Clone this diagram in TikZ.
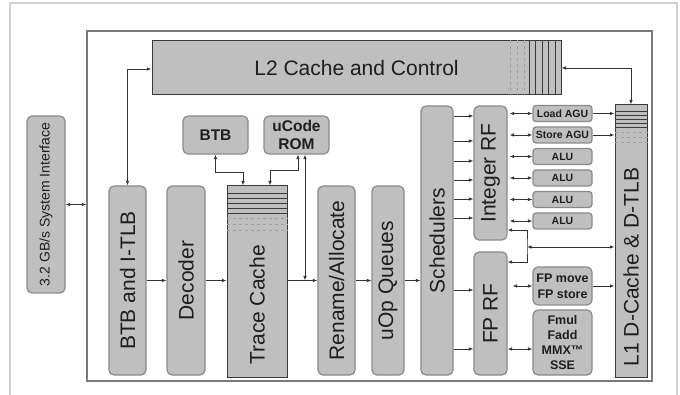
\documentclass[tikz,border=0pt]{standalone}
\usepackage{fontspec}
\setmainfont{Liberation Sans}
\usetikzlibrary{arrows.meta}

\definecolor{blkfill}{HTML}{BFBFBF}
\definecolor{blkline}{HTML}{8A8A8A}
\definecolor{cacheline}{HTML}{3A3A3A}
\definecolor{blktext}{HTML}{1E1E1E}
\definecolor{wirecol}{HTML}{333333}
\definecolor{framecol}{HTML}{7A7A7A}
\definecolor{outercol}{HTML}{D2D2D2}

\begin{document}
\begin{tikzpicture}[
  x=1pt, y=-1pt,
  >={Latex[length=4.5pt,width=3.5pt]},
  blk/.style={rectangle, rounded corners=5pt, draw=blkline, fill=blkfill, line width=1.2pt, inner sep=0pt, text=blktext, font=\fontsize{21}{24}\selectfont},
  cachebox/.style={blk, sharp corners, draw=cacheline, line width=1pt},
  exunit/.style={blk, rounded corners=3pt, minimum width=59pt, minimum height=16pt, font=\bfseries\fontsize{10.5}{12}\selectfont},
  rombox/.style={blk, minimum width=65pt, minimum height=38pt, align=center, font=\bfseries\fontsize{15.5}{18.5}\selectfont},
  wire/.style={draw=wirecol, line width=0.8pt},
  stripe/.style={draw=cacheline, line width=0.6pt},
  faintstripe/.style={draw=gray!75, line width=0.5pt, dashed},
]
  \useasboundingbox (0,0) rectangle (680,395);
  \draw[outercol, line width=1.5pt] (10,395) -- (10,3) -- (677,3) -- (677,395);

  % core frame and the blocks
  \node[draw=framecol, line width=1.2pt, minimum width=565pt, minimum height=350pt, inner sep=0pt] (core) at (369.5,206) {};

  \node[blk, minimum width=38pt, minimum height=177pt, font=\fontsize{14}{16}\selectfont] (sysif) at (46,204.5) {\rotatebox{90}{3.2 GB/s System Interface}};

  \node[cachebox, minimum width=409pt, minimum height=54pt] (l2) at (356.5,68) {L2 Cache and Control};

  \node[blk, minimum width=37pt, minimum height=189pt] (btbitlb) at (127.5,280.5) {\rotatebox{90}{BTB and I-TLB}};
  \node[blk, minimum width=38pt, minimum height=189pt] (decoder) at (186,280.5) {\rotatebox{90}{Decoder}};
  \node[cachebox, minimum width=60pt, minimum height=191pt] (trace) at (257,281.5) {\rotatebox{90}{Trace Cache\hspace*{47pt}}};
  \node[blk, minimum width=37pt, minimum height=189pt] (rename) at (336.5,280.5) {\rotatebox{90}{Rename/Allocate}};
  \node[blk, minimum width=32pt, minimum height=189pt] (uop) at (388,280.5) {\rotatebox{90}{uOp Queues}};
  \node[blk, minimum width=32pt, minimum height=269pt] (sched) at (437,240.5) {\rotatebox{90}{Schedulers}};
  \node[blk, minimum width=33pt, minimum height=134pt] (intrf) at (490.5,173) {\rotatebox{90}{Integer RF}};
  \node[blk, minimum width=33pt, minimum height=123pt] (fprf) at (490.5,313.5) {\rotatebox{90}{FP RF}};
  \node[cachebox, minimum width=32pt, minimum height=272pt] (l1) at (631,241) {\rotatebox{90}{L1 D-Cache \& D-TLB\hspace*{52pt}}};

  \node[rombox] (btb) at (215.5,135) {BTB};
  \node[rombox] (ucode) at (296.5,135) {uCode\\ROM};

  \foreach \nm/\txt/\y in {lagu/Load AGU/113.5, sagu/Store AGU/135, alua/ALU/156.5, alub/ALU/178, aluc/ALU/199.5, alud/ALU/221}
    \node[exunit] (\nm) at (562.5,\y) {\txt};

  \node[exunit, rounded corners=5pt, minimum height=38pt, align=center, font=\bfseries\fontsize{12.5}{16}\selectfont] (fpmove) at (562.5,286) {FP move\\FP store};
  \node[exunit, rounded corners=5pt, minimum height=65pt, align=center, font=\bfseries\fontsize{12.5}{15}\selectfont] (fmul) at (562.5,342.5) {Fmul\\Fadd\\MMX™\\SSE};

  % stripes in the caches
  \foreach \x in {510,517,524}
    \draw[faintstripe] (\x,0 |- l2.north) -- (\x,0 |- l2.south);
  \foreach \x in {529,535,542,548,555}
    \draw[stripe] (\x,0 |- l2.north) -- (\x,0 |- l2.south);
  \foreach \y in {193,198,203,208,213}
    \draw[stripe] (trace.west |- 0,\y) -- (trace.east |- 0,\y);
  \foreach \y in {218,224,230}
    \draw[faintstripe] (trace.west |- 0,\y) -- (trace.east |- 0,\y);
  \foreach \y in {111,115,119,123,127}
    \draw[stripe] (l1.west |- 0,\y) -- (l1.east |- 0,\y);
  \foreach \y in {132,137,142}
    \draw[faintstripe] (l1.west |- 0,\y) -- (l1.east |- 0,\y);

  % connectors
  \draw[wire, <->] (sysif.east) -- (core.west |- sysif.east);
  \draw[wire, <->] (l2.west |- 0,69) -| (btbitlb.north);
  \draw[wire, <->] (l2.east |- 0,68) -| (l1.north);

  \draw[wire, ->] (btbitlb.east) -- (decoder.west);
  \draw[wire, ->] (decoder.east) -- (trace.west |- decoder.east);
  \draw[wire, ->] (trace.east |- rename.west) -- (rename.west);
  \draw[wire, <->] (btb.south) -- ++(0,18) -| ([xshift=-14pt]trace.north);
  \draw[wire, <->] ([xshift=13pt]trace.north) -- ++(0,-15) -| ([xshift=1.5pt]ucode.south);
  \draw[wire, <->] ([xshift=8.5pt]ucode.south) -- ([xshift=8.5pt]ucode.south |- rename.west);

  \draw[wire, ->] (rename.east) -- (uop.west);
  \draw[wire, ->] (uop.east) -- (sched.west |- uop.east);
  \foreach \y in {116,141,161,180,199,218}
    \draw[wire, ->] (sched.east |- 0,\y) -- (intrf.west |- 0,\y);
  \foreach \y in {290,349}
    \draw[wire, ->] (sched.east |- 0,\y) -- (fprf.west |- 0,\y);

  \foreach \nm in {lagu,sagu,alua,alub,aluc,alud}
    \draw[wire, <->, shorten <=2pt] (intrf.east |- \nm.west) -- (\nm.west);
  \draw[wire, ->] (lagu.east) -- (l1.west |- lagu.east);
  \draw[wire, ->] (sagu.east) -- (l1.west |- sagu.east);

  \coordinate (rfjoin) at (527,247);
  \draw[wire, <->] (intrf.east |- 0,230) -| (rfjoin) |- (fprf.east |- 0,262);
  \draw[wire, <->] (rfjoin) -- (l1.west |- rfjoin);
  \draw[wire, <->, shorten <=5pt] (fprf.east |- fpmove.west) -- (fpmove.west);
  \draw[wire, ->] (fpmove.east) -- (l1.west |- fpmove.east);
  \draw[wire, <->] (fprf.east |- 0,349) -- (fmul.west |- 0,349);
\end{tikzpicture}
\end{document}
